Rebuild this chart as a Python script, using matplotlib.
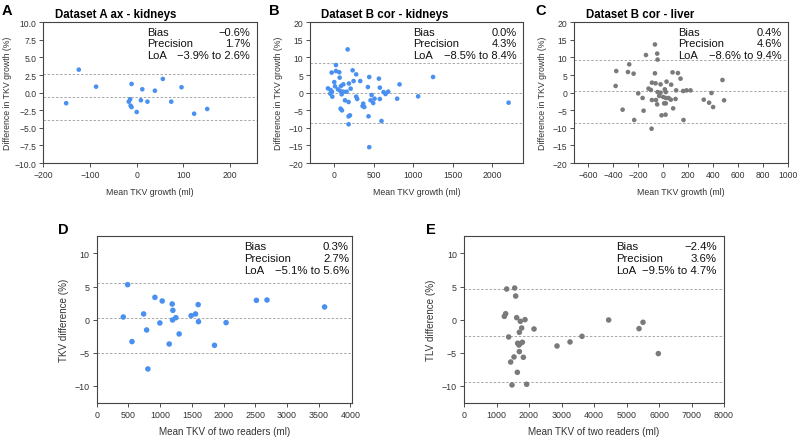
import matplotlib
matplotlib.use("Agg")
import matplotlib.pyplot as plt
from matplotlib.ticker import FuncFormatter

plt.rcParams['font.family'] = ['Liberation Sans', 'DejaVu Sans']

BLUE = '#4a90f0'
GREY = '#7a7a7a'

# ---- Panel A: Dataset A ax - kidneys ----
a_x = [-151, -124, -87, -11, 12, 39, 56, 96, -17, -14, -13, -11, 0, 9, 23, 74, 123, 151]
a_y = [-1.5, 3.27, 0.85, 1.24, 0.48, 0.28, 1.95, 0.77, -1.28, -0.94, -1.85, -2.05, -2.75, -1.08, -1.28, -1.28, -2.99, -2.32]
a_lines = [-0.6, -3.9, 2.6]
a_stats = [("Bias", "\u22120.6%"), ("Precision", "1.7%"), ("LoA", "\u22123.9% to 2.6%")]

# ---- Panel B: Dataset B cor - kidneys ----
b_x = [173, 25, -29, 25, 67, 4, 72, 236, 281, 118, 88, 13, -76, -42, -25, 50, 80, 118, 160,
       189, 248, 211, 332, 446, 429, 476, 568, 580, 627, 652, 686, 829, -46, -21, 97, 139,
       185, 281, 294, 370, 383, 362, 463, 496, 513, 580, 799, 84, 101, 202, 185, 437, 185,
       601, 446, 1064, 1253, 2208]
b_y = [12.3, 7.85, 5.7, 6.15, 5.8, 3.0, 4.27, 6.35, 5.2, 2.36, 1.88, 1.8, 1.22, 0.75, 0.28, 0.94,
       0.47, 0.28, 0.28, 2.6, 3.3, 1.14, 3.3, 4.45, 1.6, -0.67, 3.98, 1.42, 0.17, -0.4, 0.28,
       2.36, -0.28, -1.14, -0.47, -2.18, -2.66, -1.14, -1.8, -3.13, -4.09, -3.8, -2.18, -2.95,
       -1.71, -1.8, -1.71, -4.55, -5.03, -6.45, -6.73, -6.73, -9.0, -8.06, -15.5, -1.05, 4.45,
       -2.85]
b_lines = [0.0, -8.5, 8.4]
b_stats = [("Bias", "0.0%"), ("Precision", "4.3%"), ("LoA", "\u22128.5% to 8.4%")]

# ---- Panel C: Dataset B cor - liver ----
c_x = [-66, -138, -48, -45, -376, -272, -282, -237, -66, 75, 118, 139, -381, -90, -61, -21, 27,
       64, -117, -98, -45, -21, 13, 21, 104, 160, 187, -200, -165, -90, -58, -48, -32, 0, 21,
       43, 61, 99, 21, 8, 80, -325, -157, -13, 19, -232, 163, -93, 475, 219, 387, 325, 368,
       400, 488]
c_y = [13.7, 10.7, 11.1, 9.4, 6.15, 8.05, 5.87, 5.4, 5.5, 5.77, 5.58, 3.98, 1.9, 2.84, 2.65,
       2.36, 3.13, 2.27, 1.14, 0.75, 0.17, 0.0, 0.94, 0.17, 0.65, 0.47, 0.65, -0.2, -1.52,
       -2.1, -2.1, -3.33, -0.95, -1.23, -1.52, -1.52, -2.0, -1.8, -3.04, -3.04, -4.46, -4.84,
       -5.13, -6.45, -6.26, -7.78, -7.78, -10.25, 3.6, 0.65, -0.1, -2.0, -2.85, -4.09, -2.18]
c_lines = [0.4, -8.6, 9.4]
c_stats = [("Bias", "0.4%"), ("Precision", "4.6%"), ("LoA", "\u22128.6% to 9.4%")]

# ---- Panel D: TKV two readers ----
d_x = [419, 488, 556, 740, 787, 807, 918, 996, 1033, 1143, 1190, 1201, 1196, 1248, 1300, 1489,
       1558, 1600, 1605, 1857, 2040, 2518, 2685, 3593]
d_y = [0.4, 5.29, -3.32, 0.86, -1.56, -7.45, 3.37, -0.5, 2.82, -3.68, 2.37, 1.41, -0.05, 0.3,
       -2.16, 0.6, 0.86, 2.27, -0.3, -3.88, -0.45, 2.92, 2.97, 1.92]
d_lines = [0.3, -5.1, 5.6]
d_stats = [("Bias", "0.3%"), ("Precision", "2.7%"), ("LoA", "\u22125.1% to 5.6%")]

# ---- Panel E: TLV two readers ----
e_x = [1313, 1559, 1590, 1241, 1282, 1621, 1733, 1877, 1775, 1703, 2154, 1374, 1651, 1723, 1795,
       1692, 1703, 1436, 1538, 1826, 1641, 1477, 1928, 2862, 3262, 3631, 4451, 5385, 5508, 5979]
e_y = [4.63, 4.78, 3.57, 0.5, 0.9, 0.3, -0.25, 0.0, -1.26, -1.91, -1.41, -2.62, -3.57, -3.63,
       -3.42, -3.83, -4.83, -6.4, -5.64, -5.69, -7.96, -9.87, -9.77, -3.98, -3.37, -2.52, -0.05,
       -1.36, -0.4, -5.13]
e_lines = [-2.4, -9.5, 4.7]
e_stats = [("Bias", "\u22122.4%"), ("Precision", "3.6%"), ("LoA", "\u22129.5% to 4.7%")]

W, H = 798, 439
fig = plt.figure(figsize=(W / 100, H / 100), dpi=100)


def box(l, t, r, b):
    return [l / W, 1 - b / H, (r - l) / W, (b - t) / H]


def minus_fmt(fmt):
    return FuncFormatter(lambda v, p: (fmt % v).replace('-', '\u2212'))


def panel(rect, xs, ys, color, lines, stats, xlim, ylim, xticks, yticks, yfmt,
          xlabel, ylabel, tick_fs, lab_fs, stat_fs, s, stat_x, stat_r, stat_y, xlabpad, ylabpad):
    ax = fig.add_axes(rect)
    for v in lines:
        ax.axhline(v, color='#a8a8a8', lw=0.7, ls=(0, (2.5, 1.8)), zorder=1)
    ax.scatter(xs, ys, s=s, color=color, edgecolors='none', zorder=3)
    ax.set_xlim(*xlim)
    ax.set_ylim(*ylim)
    ax.set_xticks(xticks)
    ax.set_yticks(yticks)
    ax.xaxis.set_major_formatter(minus_fmt('%d'))
    ax.yaxis.set_major_formatter(minus_fmt(yfmt))
    ax.tick_params(labelsize=tick_fs, length=3, width=0.6, color='#333333',
                   labelcolor='#333333', pad=2)
    for sp in ax.spines.values():
        sp.set_linewidth(0.8)
        sp.set_color('#444444')
    ax.set_xlabel(xlabel, fontsize=lab_fs, color='#333333', labelpad=xlabpad)
    ax.set_ylabel(ylabel, fontsize=lab_fs, color='#333333', labelpad=ylabpad)
    for (k, v), yy in zip(stats, stat_y):
        ax.text(stat_x, yy, k, transform=ax.transAxes, fontsize=stat_fs,
                ha='left', va='center', color='#111111')
        ax.text(stat_r, yy, v, transform=ax.transAxes, fontsize=stat_fs,
                ha='right', va='center', color='#111111')
    return ax


top_y = [0.931, 0.853, 0.765]
bot_y = [0.942, 0.872, 0.80]

panel(box(43.3, 23.3, 256.7, 164), a_x, a_y, BLUE, a_lines, a_stats, (-200, 257), (-10, 10),
      [-200, -100, 0, 100, 200], [-10, -7.5, -5, -2.5, 0, 2.5, 5, 7.5, 10], '%.1f',
      'Mean TKV growth (ml)', 'Difference in TKV growth (%)', 6.2, 6.3, 8, 11,
      0.486, 0.969, top_y, 6, 2)
panel(box(310, 23.3, 523, 164), b_x, b_y, BLUE, b_lines, b_stats, (-303, 2390), (-20, 20),
      [0, 500, 1000, 1500, 2000], [-20, -15, -10, -5, 0, 5, 10, 15, 20], '%d',
      'Mean TKV growth (ml)', 'Difference in TKV growth (%)', 6.2, 6.3, 8, 11,
      0.484, 0.970, top_y, 6, 4)
panel(box(574.3, 23.3, 788, 164), c_x, c_y, GREY, c_lines, c_stats, (-712, 1000), (-20, 20),
      list(range(-600, 1001, 200)), [-20, -15, -10, -5, 0, 5, 10, 15, 20], '%d',
      'Mean TKV growth (ml)', 'Difference in TKV growth (%)', 6.2, 6.3, 8, 11,
      0.485, 0.970, top_y, 6, 4)
panel(box(96.7, 237.3, 352.3, 404), d_x, d_y, BLUE, d_lines, d_stats, (0, 4030), (-12.6, 12.6),
      list(range(0, 4001, 500)), [-10, -5, 0, 5, 10], '%d',
      'Mean TKV of two readers (ml)', 'TKV difference (%)', 6.4, 7.1, 8.2, 16,
      0.576, 0.987, bot_y, 5, 4)
panel(box(464, 237.3, 724, 404), e_x, e_y, GREY, e_lines, e_stats, (0, 8000), (-12.6, 12.6),
      list(range(0, 8001, 1000)), [-10, -5, 0, 5, 10], '%d',
      'Mean TKV of two readers (ml)', 'TLV difference (%)', 6.4, 7.1, 8.2, 16,
      0.585, 0.972, bot_y, 5, 4)

# panel letters and titles
for letter, x, y in [("A", 1.5, 11), ("B", 269, 11), ("C", 535, 11), ("D", 58, 230), ("E", 426, 230)]:
    fig.text(x / W, 1 - y / H, letter, fontsize=10.5, fontweight='bold', ha='left', va='center')
for title, x in [("Dataset A ax - kidneys", 55), ("Dataset B cor - kidneys", 321),
                 ("Dataset B cor - liver", 586)]:
    fig.text(x / W, 1 - 15 / H, title, fontsize=8.3, fontweight='bold', ha='left', va='center')

fig.savefig('out.png', dpi=100)
